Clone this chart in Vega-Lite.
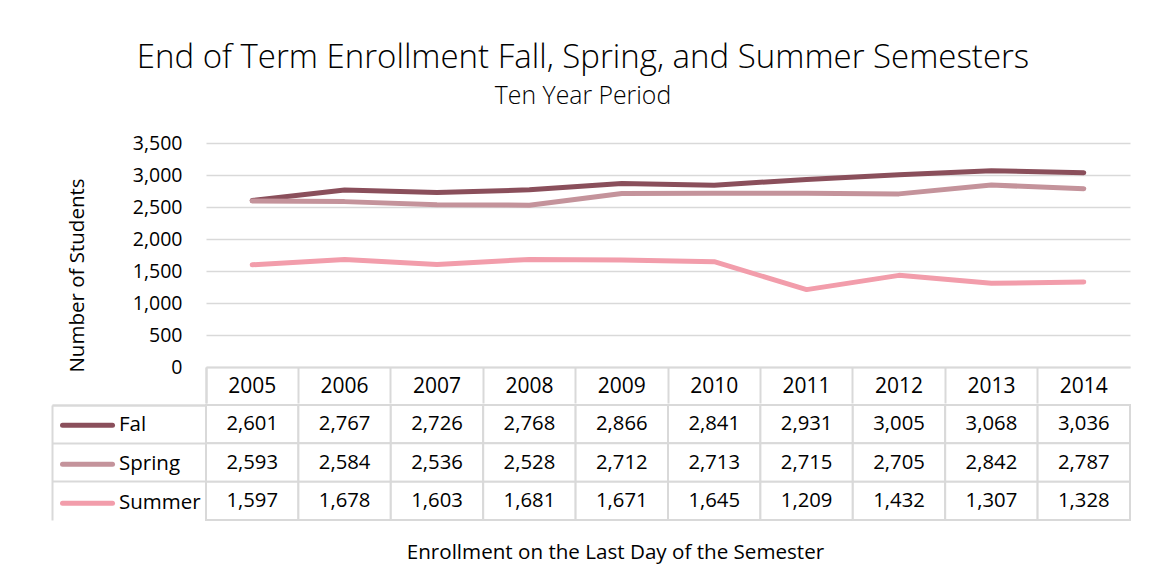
{
  "$schema": "https://vega.github.io/schema/vega-lite/v6.json",
  "padding": {"left": 51, "top": 42, "right": 5, "bottom": 5},
  "background": "white",
  "config": {"font": "Open Sans", "view": {"stroke": null}},
  "title": {"text": "End of Term Enrollment Fall, Spring, and Summer Semesters", "subtitle": "Ten Year Period", "fontSize": 33, "fontWeight": 300, "color": "#000", "subtitleFontSize": 24.8, "subtitleFontWeight": 300, "subtitleColor": "#000", "subtitlePadding": 9, "anchor": "middle", "offset": 24, "dx": -8},
  "datasets": {
    "enroll": [
      {"year": "2005", "series": "Fal", "value": 2601},
      {"year": "2006", "series": "Fal", "value": 2767},
      {"year": "2007", "series": "Fal", "value": 2726},
      {"year": "2008", "series": "Fal", "value": 2768},
      {"year": "2009", "series": "Fal", "value": 2866},
      {"year": "2010", "series": "Fal", "value": 2841},
      {"year": "2011", "series": "Fal", "value": 2931},
      {"year": "2012", "series": "Fal", "value": 3005},
      {"year": "2013", "series": "Fal", "value": 3068},
      {"year": "2014", "series": "Fal", "value": 3036},
      {"year": "2005", "series": "Spring", "value": 2593},
      {"year": "2006", "series": "Spring", "value": 2584},
      {"year": "2007", "series": "Spring", "value": 2536},
      {"year": "2008", "series": "Spring", "value": 2528},
      {"year": "2009", "series": "Spring", "value": 2712},
      {"year": "2010", "series": "Spring", "value": 2713},
      {"year": "2011", "series": "Spring", "value": 2715},
      {"year": "2012", "series": "Spring", "value": 2705},
      {"year": "2013", "series": "Spring", "value": 2842},
      {"year": "2014", "series": "Spring", "value": 2787},
      {"year": "2005", "series": "Summer", "value": 1597},
      {"year": "2006", "series": "Summer", "value": 1678},
      {"year": "2007", "series": "Summer", "value": 1603},
      {"year": "2008", "series": "Summer", "value": 1681},
      {"year": "2009", "series": "Summer", "value": 1671},
      {"year": "2010", "series": "Summer", "value": 1645},
      {"year": "2011", "series": "Summer", "value": 1209},
      {"year": "2012", "series": "Summer", "value": 1432},
      {"year": "2013", "series": "Summer", "value": 1307},
      {"year": "2014", "series": "Summer", "value": 1328}
    ]
  },
  "spacing": 0,
  "vconcat": [
    {
      "width": 924,
      "height": 224,
      "data": {"name": "enroll"},
      "mark": {"type": "line", "strokeWidth": 5, "strokeCap": "round", "strokeJoin": "round"},
      "encoding": {
        "x": {
          "field": "year", "type": "ordinal",
          "scale": {"type": "band", "paddingInner": 0, "paddingOuter": 0},
          "axis": {"title": null, "orient": "bottom", "bandPosition": 0, "tickExtra": true, "tickSize": 36, "tickColor": "#d9d9d9", "tickWidth": 2, "domainColor": "#d9d9d9", "domainWidth": 2, "labelAngle": 0, "labelFontSize": 21, "labelColor": "#000", "labelBaseline": "middle", "labelPadding": -17, "grid": false}
        },
        "y": {
          "field": "value", "type": "quantitative",
          "scale": {"domain": [0, 3500], "nice": false},
          "axis": {"title": "Number of Students", "values": [0, 500, 1000, 1500, 2000, 2500, 3000, 3500], "format": ",d", "grid": true, "gridColor": "#d9d9d9", "gridWidth": 1.5, "domain": false, "ticks": false, "labelPadding": 24, "labelFontSize": 19.5, "labelColor": "#000", "titleFontSize": 20.5, "titleFontWeight": "normal", "titleColor": "#000", "titlePadding": 45, "titleY": 132}
        },
        "color": {
          "field": "series", "type": "nominal",
          "scale": {"domain": ["Fal", "Spring", "Summer"], "range": ["#8a4f5b", "#c4939b", "#f29dab"]},
          "legend": {"orient": "none", "legendX": -146, "legendY": 263, "title": null, "symbolType": "stroke", "symbolSize": 2500, "symbolStrokeWidth": 5, "labelFontSize": 20.5, "labelColor": "#000", "rowPadding": 0, "clipHeight": 38.3, "labelOffset": 4, "padding": 0,
            "encode": {"symbols": {"update": {"strokeCap": {"value": "round"}}}}}
        }
      }
    },
    {
      "width": 924,
      "height": 115,
      "data": {"name": "enroll"},
      "encoding": {
        "x": {
          "field": "year", "type": "ordinal",
          "scale": {"type": "band", "paddingInner": 0, "paddingOuter": 0},
          "axis": {"title": "Enrollment on the Last Day of the Semester", "labels": false, "ticks": false, "domain": false, "titleFontSize": 20.6, "titleFontWeight": "normal", "titleColor": "#000", "titleX": 409, "titleY": 22}
        },
        "y": {
          "field": "series", "type": "nominal", "sort": ["Fal", "Spring", "Summer"],
          "scale": {"type": "band", "paddingInner": 0, "paddingOuter": 0},
          "axis": {"title": null, "labels": false, "offset": 154, "tickSize": -154, "bandPosition": 0, "tickExtra": true, "tickColor": "#d9d9d9", "tickWidth": 2, "domainColor": "#d9d9d9", "domainWidth": 2, "grid": false}
        }
      },
      "layer": [
        {"mark": {"type": "rect", "fill": "white", "stroke": "#d9d9d9", "strokeWidth": 2}},
        {"mark": {"type": "text", "fontSize": 20.3, "color": "#000"}, "encoding": {"text": {"field": "value", "type": "quantitative", "format": ","}}}
      ]
    }
  ]
}
